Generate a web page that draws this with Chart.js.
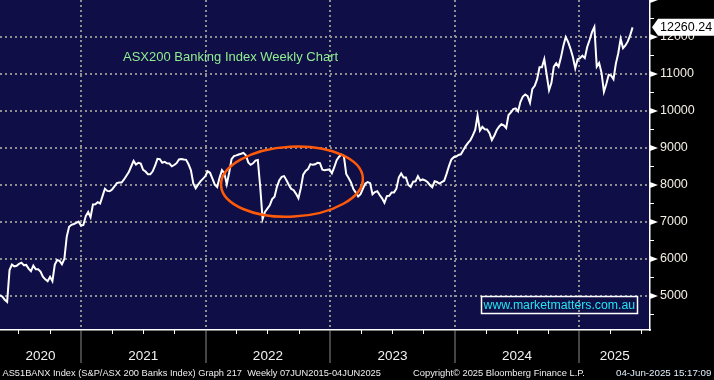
<!DOCTYPE html>
<html>
<head>
<meta charset="utf-8">
<script src="https://cdn.jsdelivr.net/npm/chart.js@4.4.1/dist/chart.umd.min.js"></script>
<style>
  html, body { margin: 0; padding: 0; background: #000; }
</style>
</head>
<body>
<canvas id="chart" width="714" height="380"></canvas>
<script>
// weekly closes of AS51BANX, first week ending 8 May 2020
const startDate = '2020-05-08';
const closes = [
  5025, 4980, 4900, 4840, 5700, 5850, 5800, 5815, 5870, 5900,
  5830, 5840, 5740, 5670, 5820, 5720, 5720, 5660, 5520, 5450,
  5400, 5520, 5400, 5850, 5973, 5950, 5860, 6000, 6600, 6870,
  6925, 6946, 6975, 7009, 6905, 6920, 7160, 7270, 7127, 7475,
  7480, 7535, 7500, 7700, 7900, 7840, 7830, 7880, 7960, 8050,
  8068, 8065, 8150, 8250, 8350, 8500, 8650, 8550, 8600, 8580,
  8410, 8365, 8290, 8290, 8370, 8520, 8705, 8700, 8600, 8625,
  8585, 8580, 8505, 8540, 8590, 8690, 8705, 8690, 8680, 8560,
  8400, 8045, 7910, 8010, 8100, 8165, 8235, 8370, 8330, 8175,
  8010, 7945, 8200, 8400, 8315, 8020, 8330, 8700, 8780, 8800,
  8825, 8845, 8870, 8805, 8610, 8545, 8585, 8660, 8676, 7950,
  7080, 7270, 7360, 7450, 7620, 7680, 7950, 8130, 8220, 8240,
  8130, 8000, 7895, 7860, 7760, 7640, 7915, 8280, 8380, 8430,
  8565, 8545, 8560, 8600, 8590, 8415, 8400, 8410, 8420, 8315,
  8480, 8670, 8765, 8820, 8790, 8300, 8190, 8070, 7890, 7795,
  7690, 7750, 7900, 8040, 8080, 8050, 7750, 7810, 7830, 7730,
  7640, 7520, 7700, 7710, 7800, 7800, 7900, 8200, 8310, 8200,
  8200, 8000, 7950, 8090, 8100, 8240, 8120, 8150, 8125, 8080,
  8000, 7940, 8100, 8080, 8040, 8080, 8115, 8300, 8510, 8685,
  8750, 8770, 8811, 8830, 8940, 9050, 9140, 9210, 9340, 9486,
  9880, 9470, 9570, 9505, 9500, 9400, 9216, 9330, 9480, 9575,
  9640, 9610, 9540, 9890, 9960, 10050, 10070, 9990, 10250, 10390,
  10445, 10400, 10220, 10600, 10680, 10860, 11180, 11180, 11400, 10980,
  10560, 10760, 11200, 11289, 11200, 11450, 11760, 12000, 11870, 11680,
  11460, 11150, 11400, 11425, 11495, 11430, 11730, 11920, 12130, 12270,
  11200, 11300, 11030, 10520, 10730, 10980, 10960, 10860, 11280, 11560,
  11950, 11700, 11770, 11880, 12050, 12260.24
];
const yTicks = [5000, 6000, 7000, 8000, 9000, 10000, 11000, 12000];
const yearLabels = ['2020', '2021', '2022', '2023', '2024', '2025'];
const lastValue = 12260.24;

const xStart = '2020-05-08';
const xEnd = '2025-07-27';
const yMin = 4081;
const yMax = 13000;

// the circled 2022 range: centre date/level, half width (years), half height (points)
const circle = { date: '2022-09-11', level: 8090, halfYears: 0.57, halfPoints: 946, tilt: -3 };

const titleText = 'ASX200 Banking Index Weekly Chart';
const siteText = 'www.marketmatters.com.au';
const footerLeft = 'AS51BANX Index (S&P/ASX 200 Banks Index) Graph 217  Weekly 07JUN2015-04JUN2025';
const footerMid = 'Copyright\u00A9 2025 Bloomberg Finance L.P.';
const footerRight = '04-Jun-2025 15:17:09';

const FONT = "'Liberation Sans', Arial, sans-serif";

function yearFrac(d) {
  const y = d.getUTCFullYear();
  const s = Date.UTC(y, 0, 1);
  const e = Date.UTC(y + 1, 0, 1);
  return y + (d.getTime() - s) / (e - s);
}

const t0 = Date.parse(startDate);
const points = closes.map((v, i) => ({ x: yearFrac(new Date(t0 + i * 7 * 864e5)), y: v }));

function fitText(ctx, text, x, y, w) {
  ctx.font = '10px ' + FONT;
  const size = 10 * w / ctx.measureText(text).width;
  ctx.font = size.toFixed(2) + 'px ' + FONT;
  ctx.fillText(text, x, y);
}

function noPadding(s) {
  s.paddingTop = 0;
  s.paddingBottom = 0;
  s.paddingLeft = 0;
  s.paddingRight = 0;
}

const bloombergDecor = {
  id: 'bloombergDecor',
  beforeDraw(chart) {
    const { ctx, chartArea } = chart;
    ctx.save();
    ctx.fillStyle = '#000';
    ctx.fillRect(0, 0, chart.width, chart.height);
    ctx.fillStyle = '#0f0e46';
    ctx.fillRect(chartArea.left, chartArea.top, chartArea.right - chartArea.left, chartArea.bottom - chartArea.top);
    ctx.restore();
  },
  afterDatasetsDraw(chart) {
    const { ctx } = chart;
    const xs = chart.scales.x;
    const ys = chart.scales.y;

    // orange ellipse
    const cx = xs.getPixelForValue(yearFrac(new Date(circle.date)));
    const cy = ys.getPixelForValue(circle.level);
    const rx = xs.getPixelForValue(xs.min + circle.halfYears) - xs.getPixelForValue(xs.min);
    const ry = ys.getPixelForValue(ys.min) - ys.getPixelForValue(ys.min + circle.halfPoints);
    ctx.save();
    ctx.strokeStyle = '#ff5a0a';
    ctx.lineWidth = 2.5;
    ctx.beginPath();
    ctx.ellipse(cx, cy, rx, ry, circle.tilt * Math.PI / 180, 0, Math.PI * 2);
    ctx.stroke();

    // title
    ctx.fillStyle = '#90ee90';
    ctx.font = '13px ' + FONT;
    ctx.textBaseline = 'middle';
    ctx.textAlign = 'left';
    ctx.fillText(titleText, 123, 57.5);

    // site box
    ctx.strokeStyle = '#ffffff';
    ctx.lineWidth = 1.5;
    ctx.strokeRect(481.5, 296.5, 156, 17);
    ctx.fillStyle = '#22e4f2';
    ctx.font = '12.3px ' + FONT;
    ctx.fillText(siteText, 483.5, 305.5);
    ctx.restore();
  },
  afterDraw(chart) {
    const { ctx, chartArea } = chart;
    const xs = chart.scales.x;
    const ys = chart.scales.y;
    const right = chartArea.right;
    const bottom = chartArea.bottom;
    ctx.save();

    // arrow markers and half-step ticks on the price axis
    ctx.fillStyle = '#ffffff';
    ctx.strokeStyle = '#ffffff';
    ctx.lineWidth = 1;
    yTicks.concat([ys.max]).forEach((v) => {
      const y = ys.getPixelForValue(v);
      ctx.beginPath();
      ctx.moveTo(right, y - 3);
      ctx.lineTo(right + 8, y);
      ctx.lineTo(right, y + 3);
      ctx.closePath();
      ctx.fill();
    });
    yTicks.forEach((v) => {
      [v - 500, v + 500].forEach((m) => {
        if (m <= ys.min || m >= ys.max) return;
        const my = Math.round(ys.getPixelForValue(m)) + 0.5;
        ctx.beginPath();
        ctx.moveTo(right, my);
        ctx.lineTo(right + 4, my);
        ctx.stroke();
      });
    });

    // last value tag
    const ly = ys.getPixelForValue(lastValue);
    ctx.beginPath();
    ctx.moveTo(right + 2, ly);
    ctx.lineTo(right + 8, ly - 8.5);
    ctx.lineTo(chart.width, ly - 8.5);
    ctx.lineTo(chart.width, ly + 8.5);
    ctx.lineTo(right + 8, ly + 8.5);
    ctx.closePath();
    ctx.fill();
    ctx.fillStyle = '#000';
    ctx.font = '12.5px ' + FONT;
    ctx.textBaseline = 'middle';
    ctx.textAlign = 'left';
    ctx.fillText(lastValue.toFixed(2), right + 10, ly + 0.5);

    // quarter ticks on the time axis
    ctx.strokeStyle = '#ffffff';
    ctx.lineWidth = 1;
    yearLabels.forEach((lab) => {
      const yr = Number(lab);
      [3, 6, 9].forEach((m) => {
        const q = yearFrac(new Date(Date.UTC(yr, m, 1)));
        if (q <= xs.min || q >= xs.max) return;
        const qx = Math.round(xs.getPixelForValue(q)) + 0.5;
        ctx.beginPath();
        ctx.moveTo(qx, bottom);
        ctx.lineTo(qx, bottom + 4);
        ctx.stroke();
      });
    });

    // year labels centred on the visible part of each year
    ctx.fillStyle = '#f2f2f2';
    ctx.font = '13.5px ' + FONT;
    ctx.textAlign = 'center';
    yearLabels.forEach((lab) => {
      const yr = Number(lab);
      const a = Math.max(yr, xs.min);
      const b = Math.min(yr + 1, xs.max);
      const px = (xs.getPixelForValue(a) + xs.getPixelForValue(b)) / 2;
      ctx.fillText(lab, px, 356.5);
    });

    // footer
    ctx.textAlign = 'left';
    ctx.fillStyle = '#eeeeee';
    fitText(ctx, footerLeft, 2.5, 373, 379);
    fitText(ctx, footerMid, 413, 373, 172);
    ctx.fillStyle = '#dfeefa';
    fitText(ctx, footerRight, 616, 373, 95.5);
    ctx.restore();
  },
};

new Chart(document.getElementById('chart'), {
  type: 'line',
  data: {
    datasets: [
      {
        data: points,
        borderColor: '#ffffff',
        borderWidth: 2,
        pointRadius: 0,
        tension: 0,
      },
    ],
  },
  options: {
    responsive: false,
    animation: false,
    devicePixelRatio: 1,
    layout: { padding: 0 },
    plugins: {
      legend: { display: false },
      title: { display: false },
      tooltip: { enabled: false },
    },
    scales: {
      x: {
        type: 'linear',
        position: 'bottom',
        min: yearFrac(new Date(xStart)),
        max: yearFrac(new Date(xEnd)),
        afterBuildTicks: (s) => {
          s.ticks = yearLabels.slice(1).map((l) => ({ value: Number(l) }));
        },
        afterFit: (s) => {
          s.height = 50;
          noPadding(s);
        },
        ticks: { display: false },
        grid: {
          color: '#8f8f8f',
          lineWidth: 2,
          drawTicks: true,
          tickLength: 33,
          tickColor: '#8a8a8a',
          tickWidth: 1,
        },
        border: { display: true, color: '#ffffff', width: 1.5, dash: [2, 3] },
      },
      y: {
        type: 'linear',
        position: 'right',
        min: yMin,
        max: yMax,
        afterBuildTicks: (s) => {
          s.ticks = yTicks.map((v) => ({ value: v }));
        },
        afterFit: (s) => {
          s.width = 64;
          noPadding(s);
        },
        ticks: {
          color: '#f4efe4',
          font: { family: FONT, size: 12.5 },
          padding: 10,
          callback: (v) => String(v),
        },
        grid: { color: '#8f8f8f', lineWidth: 2, drawTicks: false },
        border: { display: true, color: '#ffffff', width: 1.5, dash: [2, 3] },
      },
    },
  },
  plugins: [bloombergDecor],
});
</script>
</body>
</html>
